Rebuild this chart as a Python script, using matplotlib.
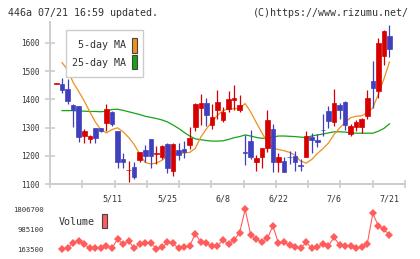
import numpy as np
import matplotlib
matplotlib.use("Agg")
import matplotlib.pyplot as plt
from matplotlib.patches import Rectangle

# ---------------- data ----------------
opens = [1456, 1454, 1437, 1380, 1377, 1270, 1258, 1300, 1297, 1317,
         1354, 1288, 1189, 1148, 1159, 1185, 1220, 1261, 1208, 1197,
         1243, 1146, 1221, 1224, 1238, 1303, 1368, 1386, 1309, 1361,
         1327, 1366, 1398, 1362, 1212, 1252, 1179, 1197, 1229, 1295,
         1177, 1182, 1197, 1199, 1166, 1196, 1268, 1256, 1292, 1359,
         1319, 1380, 1391, 1277, 1301, 1303, 1342, 1465, 1428, 1555,
         1623]
highs = [1458, 1475, 1471, 1385, 1377, 1294, 1275, 1300, 1299, 1384,
         1360, 1288, 1209, 1182, 1177, 1215, 1237, 1261, 1234, 1238,
         1244, 1244, 1244, 1252, 1303, 1386, 1419, 1405, 1384, 1433,
         1374, 1430, 1451, 1416, 1274, 1291, 1203, 1226, 1362, 1313,
         1210, 1195, 1217, 1217, 1188, 1287, 1281, 1276, 1347, 1375,
         1437, 1386, 1395, 1311, 1327, 1333, 1433, 1537, 1618, 1645,
         1664]
lows = [1456, 1424, 1384, 1303, 1250, 1244, 1244, 1246, 1284, 1289,
        1306, 1156, 1156, 1108, 1118, 1177, 1178, 1158, 1172, 1190,
        1140, 1130, 1185, 1191, 1224, 1288, 1310, 1305, 1294, 1330,
        1321, 1356, 1362, 1356, 1167, 1189, 1147, 1158, 1215, 1144,
        1144, 1144, 1170, 1147, 1147, 1196, 1211, 1232, 1270, 1300,
        1307, 1330, 1291, 1269, 1288, 1280, 1330, 1371, 1406, 1520,
        1550]
closes = [1458, 1433, 1394, 1363, 1268, 1288, 1270, 1262, 1289, 1366,
          1312, 1177, 1177, 1150, 1126, 1213, 1200, 1200, 1210, 1236,
          1158, 1243, 1203, 1212, 1264, 1384, 1386, 1346, 1336, 1391,
          1354, 1402, 1405, 1380, 1210, 1197, 1193, 1226, 1327, 1177,
          1197, 1144, 1195, 1177, 1164, 1270, 1256, 1249, 1290, 1323,
          1386, 1362, 1309, 1306, 1319, 1329, 1406, 1441, 1601, 1643,
          1579]

# moving averages and volume start at the second session
series_start = 1
ma5 = [1530, 1505, 1460, 1428, 1394, 1356, 1320, 1292, 1281, 1293,
       1299, 1285, 1265, 1240, 1206, 1176, 1171, 1174, 1184, 1198,
       1207, 1209, 1210, 1212, 1226, 1266, 1295, 1320, 1343, 1360,
       1366, 1367, 1368, 1385, 1355, 1318, 1282, 1248, 1228, 1222,
       1218, 1212, 1202, 1181, 1174, 1187, 1208, 1225, 1245, 1275,
       1298, 1318, 1335, 1340, 1342, 1352, 1370, 1418, 1472, 1532]
ma25 = [1360, 1360, 1360, 1359, 1358, 1357, 1357, 1356, 1358, 1364,
        1365, 1361, 1356, 1351, 1346, 1340, 1336, 1332, 1327, 1320,
        1309, 1297, 1283, 1270, 1260, 1257, 1254, 1252, 1252, 1253,
        1258, 1264, 1268, 1274, 1270, 1265, 1262, 1263, 1266, 1270,
        1270, 1269, 1268, 1266, 1265, 1270, 1274, 1277, 1281, 1285,
        1285, 1284, 1281, 1280, 1280, 1280, 1280, 1287, 1297, 1313]
volume = [163500, 204600, 434600, 516800, 368900, 204600, 204600, 204600, 299100, 204600,
          586600, 381200, 504500, 204600, 381200, 434600, 434600, 163500, 245700, 451100,
          410000, 204600, 270300, 299100, 792000, 475700, 410000, 299100, 299100, 545500,
          381200, 545500, 845400, 1806700, 751000, 574300, 475700, 615400, 1120700, 410000,
          451100, 340100, 270300, 204600, 451100, 204600, 245700, 381200, 299100, 656500,
          340100, 299100, 299100, 204600, 245700, 381200, 1642400, 1120700, 985100, 751000]

date_labels = ["5/11", "5/25", "6/8", "6/22", "7/6", "7/21"]
date_label_idx = [10, 20, 30, 40, 50, 60]
price_ticks = [1100, 1200, 1300, 1400, 1500, 1600]
vol_ticks = [163500, 985100, 1806700]

title_left = "446a 07/21 16:59 updated."
title_right = "(C)https://www.rizumu.net/"
legend_labels = ["5-day MA", "25-day MA"]

# ---------------- styling ----------------
W, H = 420, 259
RED = "#d70000"
BLUE = "#4040bf"
ORANGE = "#f0901a"
GREEN = "#16a316"
VOLC = "#ff5c5c"
AXC = "#cccccc"
TXT = "#333333"
MONO = "DejaVu Sans Mono"

def fx(px):
    return px / W

def fy(py):
    return 1 - py / H

fig = plt.figure(figsize=(W / 100, H / 100), dpi=100)

xmin, xmax = -1.17, 62.8
# main price axes: left 50px, right 405px, top 22px, bottom 184px
ax = fig.add_axes([fx(50), fy(184), fx(405) - fx(50), fy(22) - fy(184)])
ax.set_xlim(xmin, xmax)
ax.set_ylim(1100, 1674)

o = np.array(opens, float)
c = np.array(closes, float)
hi = np.array(highs, float)
lo = np.array(lows, float)
idx = np.arange(len(o))
cols = np.where(c >= o, RED, BLUE)

mi = np.arange(series_start, series_start + len(ma5))
ax.plot(mi, ma25, color=GREEN, lw=0.9, zorder=2)
ax.plot(mi, ma5, color=ORANGE, lw=0.9, zorder=2)

ax.vlines(idx, lo, hi, colors=cols, lw=0.9, zorder=3)
ax.bar(idx, np.abs(c - o), width=0.82, bottom=np.minimum(o, c),
       color=cols, edgecolor=cols, lw=0.5, zorder=4)

for s in ["top", "right"]:
    ax.spines[s].set_visible(False)
for s in ["left", "bottom"]:
    ax.spines[s].set_color(AXC)
    ax.spines[s].set_linewidth(1.4)

ax.set_yticks(price_ticks)
ax.set_yticklabels([str(t) for t in price_ticks], fontfamily=MONO)
ax.set_xticks(np.linspace(xmin, xmax, 12))
ax.set_xticklabels([])
ax.tick_params(axis="y", direction="inout", length=7, width=1.2, color=AXC,
               labelsize=5.6, labelcolor=TXT, pad=3.8)
ax.tick_params(axis="x", direction="inout", length=6, width=1.2, color=AXC)

for lab, i in zip(date_labels, date_label_idx):
    ax.text(i, -14.5 / 162, lab, transform=ax.get_xaxis_transform(),
            ha="center", va="center", fontsize=6.0, color=TXT, family=MONO)

# ---------------- volume axes ----------------
axv = fig.add_axes([fx(50), fy(249.3), fx(405) - fx(50), fy(209.3) - fy(249.3)])
axv.set_xlim(xmin, xmax)
axv.set_ylim(vol_ticks[0], vol_ticks[-1])
vi = np.arange(series_start, series_start + len(volume))
axv.plot(vi, volume, color=VOLC, lw=0.8, marker="D", markersize=4.5,
         markeredgewidth=0, clip_on=False)
for s in axv.spines.values():
    s.set_visible(False)
axv.set_xticks([])
axv.set_yticks(vol_ticks)
axv.set_yticklabels([str(v) for v in vol_ticks], fontfamily=MONO)
axv.tick_params(axis="y", length=0, labelsize=5.2, labelcolor=TXT, pad=4.5)

# ---------------- texts / legends ----------------
fig.text(fx(8), fy(13.5), title_left, ha="left", va="center",
         fontsize=7.2, color=TXT, family=MONO)
fig.text(fx(409), fy(13.5), title_right, ha="right", va="center",
         fontsize=7.2, color=TXT, family=MONO)

# price MA legend box
fig.add_artist(Rectangle((fx(66), fy(77)), fx(143) - fx(66), fy(30) - fy(77),
                         transform=fig.transFigure, facecolor="white",
                         edgecolor=AXC, lw=1.0, zorder=5))
fig.text(fx(125.5), fy(45.5), legend_labels[0], ha="right", va="center",
         fontsize=7.2, color=TXT, family=MONO, zorder=6)
fig.text(fx(125.5), fy(62.5), legend_labels[1], ha="right", va="center",
         fontsize=7.2, color=TXT, family=MONO, zorder=6)
fig.add_artist(Rectangle((fx(131.5), fy(52.5)), fx(137) - fx(131.5), fy(37.5) - fy(52.5),
                         transform=fig.transFigure, facecolor=ORANGE,
                         edgecolor="#444444", lw=0.8, zorder=6))
fig.add_artist(Rectangle((fx(131.5), fy(69)), fx(137) - fx(131.5), fy(54.5) - fy(69),
                         transform=fig.transFigure, facecolor=GREEN,
                         edgecolor="#444444", lw=0.8, zorder=6))

# volume legend
fig.text(fx(59), fy(222), "Volume", ha="left", va="center",
         fontsize=7.2, color=TXT, family=MONO)
fig.add_artist(Rectangle((fx(102), fy(228)), fx(107.3) - fx(102), fy(213.5) - fy(228),
                         transform=fig.transFigure, facecolor=VOLC,
                         edgecolor="#444444", lw=0.8, zorder=6))

fig.savefig("out.png", dpi=100, facecolor="white")
